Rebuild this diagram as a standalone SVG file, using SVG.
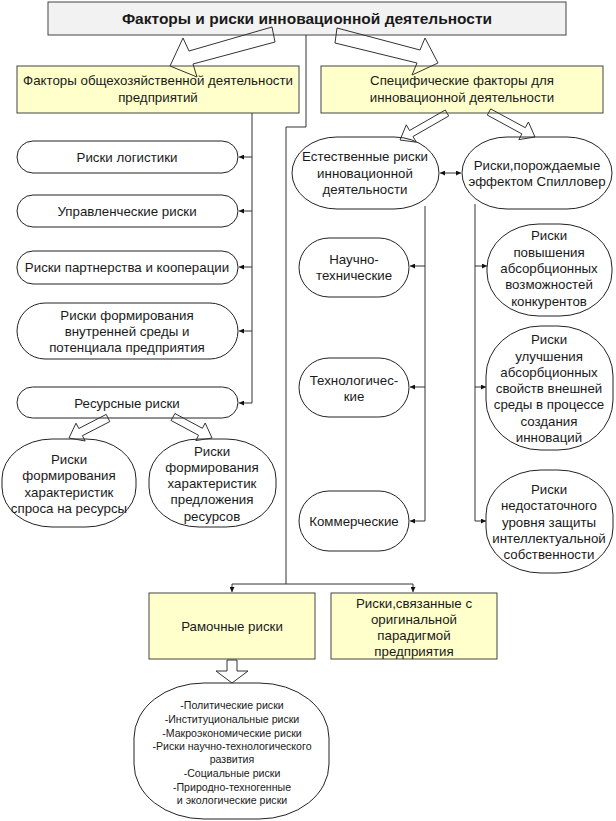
<svg xmlns="http://www.w3.org/2000/svg" width="616" height="821" viewBox="0 0 616 821">
<style>
text{font-family:"Liberation Sans",Arial,sans-serif;font-size:13.3px;fill:#1a1a1a;text-anchor:middle}
.t{font-weight:bold;font-size:15.5px}
.s{font-size:10.6px}
.box{fill:#FFFFCC;stroke:#444;stroke-width:1}
.node{fill:#fff;stroke:#222;stroke-width:1}
.ln{fill:none;stroke:#333;stroke-width:1}
.big{fill:none;stroke:#333;stroke-width:1;stroke-linejoin:miter}
</style>
<defs>
<marker id="ah" viewBox="0 0 8 8" refX="8" refY="4" markerWidth="6" markerHeight="5" markerUnits="userSpaceOnUse" orient="auto-start-reverse">
<path d="M0,0 L8,4 L0,8 Z" fill="#111"/>
</marker>
</defs>

<g id="title">
<rect x="48" y="2" width="518" height="33" fill="#F2F2F2" stroke="#444"/>
<text class="t" x="307" y="23.5">Факторы и риски инновационной деятельности</text>
</g>

<g id="general">
<rect class="box" x="17" y="66" width="282" height="47"/>
<text x="158" y="85">Факторы общехозяйственной деятельности</text>
<text x="158" y="102">предприятий</text>
</g>

<g id="specific">
<rect class="box" x="321" y="66" width="282" height="47"/>
<text x="462" y="85">Специфические факторы для</text>
<text x="462" y="102">инновационной деятельности</text>
</g>

<g id="logistics">
<rect class="node" x="17" y="141" width="221" height="32" rx="16" ry="16"/>
<text x="127" y="161.5">Риски логистики</text>
</g>
<g id="management">
<rect class="node" x="17" y="195" width="221" height="32" rx="16" ry="16"/>
<text x="127" y="215.5">Управленческие риски</text>
</g>
<g id="partnership">
<rect class="node" x="17" y="251" width="221" height="33" rx="16" ry="16"/>
<text x="127" y="271.5">Риски партнерства и кооперации</text>
</g>
<g id="internal">
<rect class="node" x="17" y="303" width="221" height="56" rx="28" ry="28"/>
<text x="127" y="319.5">Риски формирования</text>
<text x="127" y="335.5">внутренней среды и</text>
<text x="127" y="351.5">потенциала предприятия</text>
</g>
<g id="resource">
<rect class="node" x="17" y="387" width="221" height="31" rx="15.5" ry="15.5"/>
<text x="127" y="407.5">Ресурсные риски</text>
</g>

<g id="demand">
<rect class="node" x="2" y="439" width="134" height="88" rx="50" ry="40"/>
<text x="69" y="463.5">Риски</text>
<text x="69" y="479.5">формирования</text>
<text x="69" y="496.5">характеристик</text>
<text x="69" y="512.5">спроса на ресурсы</text>
</g>
<g id="supply">
<rect class="node" x="149" y="439" width="127" height="88" rx="50" ry="40"/>
<text x="212" y="455.5">Риски</text>
<text x="212" y="471.5">формирования</text>
<text x="212" y="487.5">характеристик</text>
<text x="212" y="503.5">предложения</text>
<text x="212" y="520.5">ресурсов</text>
</g>

<g id="natural">
<rect class="node" x="292" y="137" width="147" height="72" rx="45" ry="36"/>
<text x="365" y="160.5">Естественные риски</text>
<text x="365" y="177.5">инновационной</text>
<text x="365" y="193.5">деятельности</text>
</g>
<g id="spillover">
<rect class="node" x="462" y="137" width="150" height="72" rx="45" ry="36"/>
<text x="537" y="169.5">Риски,порождаемые</text>
<text x="537" y="185.5">эффектом Спилловер</text>
</g>

<g id="scitech">
<rect class="node" x="299" y="238" width="110" height="59" rx="30" ry="29.5"/>
<text x="354" y="263.5">Научно-</text>
<text x="354" y="279.5">технические</text>
</g>
<g id="tech">
<rect class="node" x="299" y="358" width="110" height="59" rx="30" ry="29.5"/>
<text x="354" y="384.5">Технологичес-</text>
<text x="354" y="400.5">кие</text>
</g>
<g id="commercial">
<rect class="node" x="299" y="491" width="110" height="60" rx="30" ry="30"/>
<text x="354" y="525.5">Коммерческие</text>
</g>

<g id="absorb-comp">
<rect class="node" x="487" y="224" width="125" height="92" rx="52" ry="44"/>
<text x="549" y="239.5">Риски</text>
<text x="549" y="256.5">повышения</text>
<text x="549" y="272.5">абсорбционных</text>
<text x="549" y="288.5">возможностей</text>
<text x="549" y="305.5">конкурентов</text>
</g>
<g id="absorb-env">
<rect class="node" x="486" y="326" width="127" height="124" rx="55" ry="50"/>
<text x="549" y="343.5">Риски</text>
<text x="549" y="360.5">улучшения</text>
<text x="549" y="376.5">абсорбционных</text>
<text x="549" y="392.5">свойств внешней</text>
<text x="549" y="408.5">среды в процессе</text>
<text x="549" y="425.5">создания</text>
<text x="549" y="441.5">инноваций</text>
</g>
<g id="ip">
<rect class="node" x="486" y="470" width="127" height="103" rx="55" ry="45"/>
<text x="549" y="493.5">Риски</text>
<text x="549" y="509.5">недостаточного</text>
<text x="549" y="526.5">уровня защиты</text>
<text x="549" y="542.5">интеллектуальной</text>
<text x="549" y="558.5">собственности</text>
</g>

<g id="frame">
<rect class="box" x="149" y="593" width="166" height="66"/>
<text x="232" y="630.5">Рамочные риски</text>
</g>
<g id="paradigm">
<rect class="box" x="331" y="593" width="166" height="66"/>
<text x="414" y="607.5">Риски,связанные с</text>
<text x="414" y="623.5">оригинальной</text>
<text x="414" y="639.5">парадигмой</text>
<text x="414" y="655.5">предприятия</text>
</g>

<g id="frame-list">
<rect class="node" x="134" y="683" width="195" height="136" rx="70" ry="55"/>
<text class="s" x="232" y="709">-Политические риски</text>
<text class="s" x="232" y="723">-Институциональные риски</text>
<text class="s" x="232" y="737">-Макроэкономические риски</text>
<text class="s" x="232" y="750">-Риски научно-технологического</text>
<text class="s" x="232" y="763">развития</text>
<text class="s" x="232" y="777">-Социальные риски</text>
<text class="s" x="232" y="791">-Природно-техногенные</text>
<text class="s" x="232" y="804">и экологические риски</text>
</g>

<g id="connectors">
<polygon class="big" points="272,27 189,51 183,38 170,66 197,77 193,64 275,42"/>
<polygon class="big" points="337,28 420,50 425,38 438,63 412,75 417,63 335,43"/>
<polygon class="big" points="445.3,110 409.5,130.5 406.3,124.8 400,140 416.3,142.2 413,136.5 448.7,116"/>
<polygon class="big" points="487.3,115.1 521.9,133.9 518.8,139.6 535,137 528.4,122 525.3,127.7 490.7,108.9"/>
<polygon class="big" points="106.2,414.4 78.8,428.5 76,423.2 69,438 85.2,441 82.4,435.7 109.8,421.6"/>
<polygon class="big" points="171.1,420.5 198.6,435.3 195.8,440.6 212,438 205.2,423 202.4,428.3 174.9,413.5"/>
<polygon class="big" points="227,660 237,660 237,671 248,671 232,683 216,671 227,671"/>

<path class="ln" d="M252,113 V403 H239" marker-end="url(#ah)"/>
<path class="ln" d="M252,157 H239" marker-end="url(#ah)"/>
<path class="ln" d="M252,211 H239" marker-end="url(#ah)"/>
<path class="ln" d="M252,267 H239" marker-end="url(#ah)"/>
<path class="ln" d="M252,331 H239" marker-end="url(#ah)"/>

<path class="ln" d="M306,35 V127 H286 V584"/>
<path class="ln" d="M286,584 H232 V592" marker-end="url(#ah)"/>
<path class="ln" d="M286,584 H413 V592" marker-end="url(#ah)"/>

<path class="ln" d="M440,173 H461" marker-start="url(#ah)" marker-end="url(#ah)"/>

<path class="ln" d="M425,206 V521 H410" marker-end="url(#ah)"/>
<path class="ln" d="M425,266 H410" marker-end="url(#ah)"/>
<path class="ln" d="M425,387 H410" marker-end="url(#ah)"/>

<path class="ln" d="M475,204 V521 H486" marker-end="url(#ah)"/>
<path class="ln" d="M475,266 H487" marker-end="url(#ah)"/>
<path class="ln" d="M475,387 H486" marker-end="url(#ah)"/>
</g>
</svg>
